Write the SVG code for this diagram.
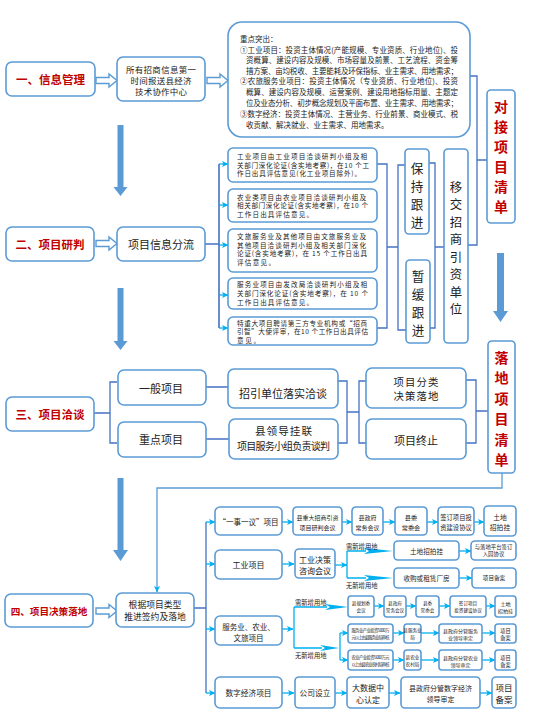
<svg xmlns="http://www.w3.org/2000/svg" width="541" height="726" viewBox="0 0 541 726">
<style>
.box{fill:#fff;stroke:#5b9bd5;stroke-width:1.6}
.t{font-family:"Noto Sans CJK SC","Liberation Sans",sans-serif;fill:#222;text-anchor:middle;dominant-baseline:central}
.l{text-anchor:start}
.red{fill:#c00000;font-weight:bold}
.br{fill:none;stroke:#4472c4;stroke-width:1.3}
.ar{fill:none;stroke:#00b0f0;stroke-width:1.3;marker-end:url(#ah)}
.big{fill:#5b9bd5}
.hol{fill:#fff;stroke:#5b9bd5;stroke-width:1.4}
.wedge{fill:#00b0f0}
</style>
<defs>
<marker id="ah" markerUnits="userSpaceOnUse" markerWidth="7" markerHeight="7" refX="6" refY="3.5" orient="auto">
<path d="M0,0.5 L6.5,3.5 L0,6.5 L1.5,3.5 z" fill="#00b0f0"/>
</marker>
</defs>
<rect width="541" height="726" fill="#fff"/>

<!-- thick flow arrows -->
<g id="flow-arrows">
<polygon class="big" points="117.5,125 123.5,125 123.5,187 127.5,187 120.5,196 113.5,187 117.5,187"/>
<polygon class="big" points="117.5,288 123.5,288 123.5,341 127.5,341 120.5,350 113.5,341 117.5,341"/>
<polygon class="big" points="117.5,478 123.5,478 123.5,550 128,550 120.5,561 113,550 117.5,550"/>
<polygon class="big" points="497,253 504,253 504,311 508,311 500.5,322 493,311 497,311"/>
<polygon class="hol" points="96,77.5 109,77.5 109,74 117,80.5 109,87 109,83.5 96,83.5"/>
<polygon class="hol" points="207,77.5 220,77.5 220,74 228,80.5 220,87 220,83.5 207,83.5"/>
<polygon class="hol" points="96,240.5 109,240.5 109,237 117,243.5 109,250 109,246.5 96,246.5"/>
<polygon class="hol" points="96,608 109,608 109,604.5 117,611 109,617.5 109,614 96,614"/>
</g>

<!-- connectors -->
<g id="connectors">
<path class="br" d="M470,76 H477 V245 H468 M477,160 H487"/>
<path class="br" d="M205,244 H219 M219,164 V328" style="stroke-width:1.6"/>
<path class="ar" d="M219,164 H228"/>
<path class="ar" d="M219,205 H228"/>
<path class="ar" d="M219,245 H228"/>
<path class="ar" d="M219,295 H228"/>
<path class="ar" d="M219,328 H228"/>
<path class="br" d="M377,164 H387 V328 H377 M387,247 H398 M405,165 H398 V330 H406 M429,163 H435 V328 H430 M435,247 H444"/>
<path class="br" d="M94,413 H110 M117,382 H110 V443 H117 M206,387 H228 M206,439 H229"/>
<path class="br" d="M338,381 H347 V443 H338 M347,412 H359 M366,381 H359 V443 H366 M466,380 H476 V443 H466 M476,411 H488"/>
<path class="ar" d="M502,473 V488 H157 V592" style="stroke:#5b9bd5"/>
<path class="br" d="M194,608 H206 M206,522 V693"/>
<path class="ar" d="M206,522 H215"/>
<path class="ar" d="M206,564 H215"/>
<path class="ar" d="M206,629 H215"/>
<path class="ar" d="M206,693 H215"/>
<!-- row 1 -->
<path class="ar" d="M282,522 H293"/>
<path class="ar" d="M342,522 H352"/>
<path class="ar" d="M383,522 H395"/>
<path class="ar" d="M427,522 H438"/>
<path class="ar" d="M474,522 H484"/>
<!-- row 2 -->
<path class="ar" d="M282,564 H294"/>
<path class="ar" d="M335,565 H347"/>
<path d="M347,551 V578 M347,551 H366 M347,578 H366" fill="none" stroke="#00b0f0" stroke-width="1.3"/>
<polygon class="wedge" points="364,548 393,551 364,554 369,551"/>
<polygon class="wedge" points="364,575 393,578 364,581 369,578"/>
<path class="ar" d="M459,551 H471"/>
<path class="ar" d="M459,578 H472"/>
<!-- row 3 -->
<path class="ar" d="M282,629 H293"/>
<path d="M294,607 V648 M294,607 H327 M294,648 H322 M340,633 V660" fill="none" stroke="#00b0f0" stroke-width="1.3"/>
<polygon class="wedge" points="325,604 348,607 325,610 330,607"/>
<polygon class="wedge" points="320,645 339,648 320,651 325,648"/>
<path class="ar" d="M340,633 H348"/>
<path class="ar" d="M340,660 H348"/>
<path class="ar" d="M374,606 H384"/>
<path class="ar" d="M406,606 H416"/>
<path class="ar" d="M439,606 H450"/>
<path class="ar" d="M486,606 H495"/>
<path class="ar" d="M393,633 H404"/>
<path class="ar" d="M421,633 H439"/>
<path class="ar" d="M482,633 H495"/>
<path class="ar" d="M393,660 H404"/>
<path class="ar" d="M421,660 H439"/>
<path class="ar" d="M482,660 H495"/>
<!-- row 4 -->
<path class="ar" d="M282,693 H294"/>
<path class="ar" d="M335,693 H347"/>
<path class="ar" d="M389,693 H400"/>
<path class="ar" d="M480,693 H492"/>
<text class="t l" x="346" y="546" font-size="6.3">需新增用地</text>
<text class="t l" x="346" y="585" font-size="6.3">无新增用地</text>
<text class="t l" x="295" y="602" font-size="6.3">需新增用地</text>
<text class="t l" x="295" y="655" font-size="6.3">无新增用地</text>
</g>

<!-- Section 1 -->
<g id="s1-title"><rect class="box" x="6" y="62" width="89" height="34" rx="6"/><text class="t red" x="50.5" y="79" font-size="11.5">一、信息管理</text></g>
<g id="s1-report"><rect class="box" x="117" y="57" width="88" height="44" rx="6"/>
<text class="t" x="161" y="68.5" font-size="8.5" textLength="70">所有招商信息第一</text>
<text class="t" x="161" y="79.5" font-size="8.5" textLength="61">时间报送县经济</text>
<text class="t" x="161" y="90.5" font-size="8.5" textLength="52">技术协作中心</text></g>
<g id="s1-focus"><rect class="box" x="228" y="22" width="242" height="115" rx="14"/>
<g class="t l" font-size="7.5">
<text x="240" y="38">重点突出：</text>
<text x="240" y="49" textLength="218" lengthAdjust="spacing">①工业项目：投资主体情况(产能规模、专业资质、行业地位)、投</text>
<text x="246" y="59.5" textLength="212" lengthAdjust="spacing">资概算、建设内容及规模、市场容量及前景、工艺流程、资金筹</text>
<text x="246" y="70" textLength="212" lengthAdjust="spacing">措方案、亩均税收、主要能耗及环保指标、业主需求、用地需求；</text>
<text x="240" y="80.5" textLength="218" lengthAdjust="spacing">②农旅服务业项目：投资主体情况（专业资质、行业地位)、投资</text>
<text x="246" y="91.5" textLength="212" lengthAdjust="spacing">概算、建设内容及规模、运营案例、建设用地指标用量、主题定</text>
<text x="246" y="102.5" textLength="212" lengthAdjust="spacing">位及业态分析、初步概念规划及平面布置、业主需求、用地需求；</text>
<text x="240" y="113.5" textLength="218" lengthAdjust="spacing">③数字经济：投资主体情况、主营业务、行业前景、商业模式、税</text>
<text x="246" y="124">收贡献、解决就业、业主需求、用地需求。</text>
</g></g>
<g id="s1-list"><rect class="box" x="487" y="90" width="28" height="133" rx="4"/>
<text class="t red" font-size="14"><tspan x="501" y="106">对</tspan><tspan x="501" y="126">接</tspan><tspan x="501" y="146">项</tspan><tspan x="501" y="166">目</tspan><tspan x="501" y="186">清</tspan><tspan x="501" y="206">单</tspan></text></g>

<!-- Section 2 -->
<g id="s2-title"><rect class="box" x="6" y="227" width="88" height="34" rx="6"/><text class="t red" x="50" y="244" font-size="11.5">二、项目研判</text></g>
<g id="s2-split"><rect class="box" x="117" y="227" width="88" height="34" rx="6"/><text class="t" x="161" y="244" font-size="11">项目信息分流</text></g>
<g class="t l" font-size="6.6">
<g id="s2-b1"><rect class="box" x="228" y="148" width="149" height="34" rx="5"/>
<text x="237" y="156" textLength="130">工业项目由工业项目洽谈研判小组及相</text>
<text x="237" y="164.6" textLength="132">关部门深化论证(含实地考察)，在10 个工</text>
<text x="237" y="173.2" textLength="124">作日出具评估意见(化工业项目除外)。</text></g>
<g id="s2-b2"><rect class="box" x="228" y="189" width="149" height="33" rx="5"/>
<text x="237" y="196.5" textLength="129">农业类项目由农业项目洽谈研判小组及</text>
<text x="237" y="205.1" textLength="131">相关部门深化论证(含实地考察)，在10 个</text>
<text x="237" y="213.7" textLength="76">工作日出具评估意见。</text></g>
<g id="s2-b3"><rect class="box" x="228" y="229" width="149" height="43" rx="5"/>
<text x="237" y="236" textLength="129">文旅服务业及其他项目由文旅服务业及</text>
<text x="237" y="244.6" textLength="129">其他项目洽谈研判小组及相关部门深化</text>
<text x="237" y="253.2" textLength="130">论证(含实地考察)，在 15 个工作日出具</text>
<text x="237" y="261.8" textLength="38">评估意见。</text></g>
<g id="s2-b4"><rect class="box" x="228" y="278" width="149" height="31" rx="5"/>
<text x="237" y="284.4" textLength="130">服务业项目由发改局洽谈研判小组及相</text>
<text x="237" y="293" textLength="131">关部门深化论证(含实地考察)，在 10 个</text>
<text x="237" y="301.6" textLength="76">工作日出具评估意见。</text></g>
<g id="s2-b5"><rect class="box" x="228" y="317" width="149" height="28" rx="5"/>
<text x="237" y="322.8" textLength="130">特重大项目聘请第三方专业机构或“招商</text>
<text x="237" y="331.4" textLength="131">引智”大使评审，在10 个工作日出具评估</text>
<text x="237" y="340" textLength="23">意见。</text></g>
</g>
<g id="s2-keep"><rect class="box" x="405" y="149" width="24" height="85" rx="4"/>
<text class="t" font-size="12.6"><tspan x="417" y="166.5">保</tspan><tspan x="417" y="184.5">持</tspan><tspan x="417" y="202.5">跟</tspan><tspan x="417" y="220.5">进</tspan></text></g>
<g id="s2-pause"><rect class="box" x="406" y="260" width="24" height="83" rx="4"/>
<text class="t" font-size="12.6"><tspan x="418" y="275">暂</tspan><tspan x="418" y="293">缓</tspan><tspan x="418" y="311">跟</tspan><tspan x="418" y="329">进</tspan></text></g>
<g id="s2-transfer"><rect class="box" x="444" y="149" width="24" height="194" rx="4"/>
<text class="t" font-size="12.4"><tspan x="456" y="187">移</tspan><tspan x="456" y="204.4">交</tspan><tspan x="456" y="221.9">招</tspan><tspan x="456" y="239.3">商</tspan><tspan x="456" y="256.7">引</tspan><tspan x="456" y="274.1">资</tspan><tspan x="456" y="291.6">单</tspan><tspan x="456" y="309">位</tspan></text></g>

<!-- Section 3 -->
<g id="s3-title"><rect class="box" x="6" y="397" width="88" height="34" rx="6"/><text class="t red" x="50" y="414" font-size="11.5">三、项目洽谈</text></g>
<g id="s3-general"><rect class="box" x="118" y="370" width="88" height="35" rx="6"/><text class="t" x="161" y="388" font-size="11">一般项目</text></g>
<g id="s3-key"><rect class="box" x="118" y="422" width="88" height="35" rx="6"/><text class="t" x="161" y="439" font-size="11">重点项目</text></g>
<g id="s3-unit"><rect class="box" x="228" y="369" width="110" height="39" rx="6"/><text class="t" x="283" y="393" font-size="11">招引单位落实洽谈</text></g>
<g id="s3-leader"><rect class="box" x="229" y="419" width="109" height="40" rx="6"/>
<text class="t" x="283.5" y="430.5" font-size="10.6" textLength="57">县领导挂联</text>
<text class="t" x="283.5" y="445" font-size="10" textLength="93">项目服务小组负责谈判</text></g>
<g id="s3-decide"><rect class="box" x="366" y="368" width="100" height="40" rx="6"/>
<text class="t" x="416" y="381.3" font-size="10.4" textLength="45">项目分类</text>
<text class="t" x="416" y="395" font-size="10.4" textLength="45">决策落地</text></g>
<g id="s3-stop"><rect class="box" x="366" y="419" width="100" height="40" rx="6"/><text class="t" x="416" y="440" font-size="11">项目终止</text></g>
<g id="s3-list"><rect class="box" x="488" y="341" width="27" height="132" rx="4"/>
<text class="t red" font-size="14"><tspan x="501.5" y="357">落</tspan><tspan x="501.5" y="377.4">地</tspan><tspan x="501.5" y="397.8">项</tspan><tspan x="501.5" y="418.2">目</tspan><tspan x="501.5" y="438.6">清</tspan><tspan x="501.5" y="459">单</tspan></text></g>

<!-- Section 4 -->
<g id="s4-title"><rect class="box" x="5" y="594" width="88" height="33" rx="6"/><text class="t red" x="49" y="611" font-size="9.6">四、项目决策落地</text></g>
<g id="s4-push"><rect class="box" x="116" y="593" width="78" height="34" rx="6"/>
<text class="t" x="155" y="604" font-size="8.8">根据项目类型</text>
<text class="t" x="155" y="616.5" font-size="8.8">推进签约及落地</text></g>

<g id="r1-yishi"><rect class="box" x="215" y="507" width="67" height="28" rx="5"/><text class="t" x="248.5" y="521.5" font-size="7.5">“一事一议”项目</text></g>
<g id="r1-b2"><rect class="box" x="293" y="507" width="49" height="28" rx="4"/><text class="t" font-size="6"><tspan x="317.5" y="517">县重大招商引资</tspan><tspan x="317.5" y="527">项目研判会议</tspan></text></g>
<g id="r1-b3"><rect class="box" x="352" y="507" width="31" height="28" rx="4"/><text class="t" font-size="6"><tspan x="367.5" y="517">县政府</tspan><tspan x="367.5" y="527">常务会议</tspan></text></g>
<g id="r1-b4"><rect class="box" x="395" y="507" width="32" height="28" rx="4"/><text class="t" font-size="6.2"><tspan x="411" y="517">县委</tspan><tspan x="411" y="527">常委会</tspan></text></g>
<g id="r1-b5"><rect class="box" x="438" y="507" width="36" height="28" rx="4"/><text class="t" font-size="6.3"><tspan x="456" y="517">签订项目投</tspan><tspan x="456" y="527">资建设协议</tspan></text></g>
<g id="r1-b6"><rect class="box" x="484" y="506" width="32" height="30" rx="4"/><text class="t" font-size="6.8"><tspan x="500" y="516.5">土地</tspan><tspan x="500" y="527">招拍挂</tspan></text></g>

<g id="r2-ind"><rect class="box" x="215" y="550" width="67" height="29" rx="5"/><text class="t" x="248.5" y="564.5" font-size="8">工业项目</text></g>
<g id="r2-b2"><rect class="box" x="295" y="549" width="40" height="29" rx="4"/><text class="t" font-size="8"><tspan x="315" y="558.5">工业决策</tspan><tspan x="315" y="569.5">咨询会议</tspan></text></g>
<g id="r2-land"><rect class="box" x="394" y="541" width="65" height="19" rx="4"/><text class="t" x="426.5" y="550.5" font-size="6.6">土地招拍挂</text></g>
<g id="r2-park"><rect class="box" x="471" y="541" width="45" height="19" rx="4"/><text class="t" font-size="5.4"><tspan x="493.5" y="546.8">与落地平台签订</tspan><tspan x="493.5" y="554.4">入园协议</tspan></text></g>
<g id="r2-buy"><rect class="box" x="394" y="568" width="65" height="20" rx="4"/><text class="t" x="426.5" y="578" font-size="6.6">收购或租赁厂房</text></g>
<g id="r2-rec"><rect class="box" x="472" y="568" width="44" height="20" rx="4"/><text class="t" x="494" y="578" font-size="5.6">项目备案</text></g>

<g id="r3-svc"><rect class="box" x="215" y="616" width="67" height="29" rx="5"/><text class="t" font-size="7.5"><tspan x="248.5" y="625.5">服务业、农业、</tspan><tspan x="248.5" y="636.5">文旅项目</tspan></text></g>
<g class="t" font-size="4.6">
<g id="r3a-1"><rect class="box" x="348" y="596" width="26" height="21" rx="3"/><text><tspan x="361" y="603">县规划委</tspan><tspan x="361" y="610">会议</tspan></text></g>
<g id="r3a-2"><rect class="box" x="384" y="596" width="22" height="21" rx="3"/><text><tspan x="395" y="603">县政府</tspan><tspan x="395" y="610">常务会议</tspan></text></g>
<g id="r3a-3"><rect class="box" x="416" y="596" width="23" height="21" rx="3"/><text><tspan x="427.5" y="603">县委</tspan><tspan x="427.5" y="610">常委会</tspan></text></g>
<g id="r3a-4"><rect class="box" x="450" y="596" width="36" height="21" rx="3"/><text><tspan x="468" y="603">签订项目</tspan><tspan x="468" y="610">投资建设协议</tspan></text></g>
<g id="r3a-5"><rect class="box" x="495" y="596" width="21" height="21" rx="3"/><text font-size="5.1"><tspan x="505.5" y="603">土地</tspan><tspan x="505.5" y="610">招拍挂</tspan></text></g>
<g id="r3b-1"><rect class="box" x="348" y="624" width="45" height="19" rx="3"/><text font-size="4.3"><tspan x="370.5" y="630" textLength="38">服务业产业投资5000万</tspan><tspan x="370.5" y="637" textLength="38">元以上由县服务业局审核</tspan></text></g>
<g id="r3b-2"><rect class="box" x="404" y="624" width="17" height="19" rx="3"/><text><tspan x="412.5" y="630">县服务业</tspan><tspan x="412.5" y="637">局</tspan></text></g>
<g id="r3b-3"><rect class="box" x="439" y="624" width="43" height="19" rx="3"/><text font-size="5"><tspan x="460.5" y="630">县政府分管服务</tspan><tspan x="460.5" y="637">业领导审定</tspan></text></g>
<g id="r3b-4"><rect class="box" x="495" y="624" width="21" height="19" rx="3"/><text font-size="5.2"><tspan x="505.5" y="630">项目</tspan><tspan x="505.5" y="637">备案</tspan></text></g>
<g id="r3c-1"><rect class="box" x="348" y="650" width="45" height="20" rx="3"/><text font-size="4.3"><tspan x="370.5" y="656.5" textLength="38">农业产业投资5000万元</tspan><tspan x="370.5" y="663.5" textLength="38">以上由县农业农村局审核</tspan></text></g>
<g id="r3c-2"><rect class="box" x="404" y="650" width="17" height="20" rx="3"/><text><tspan x="412.5" y="656.5">县农业</tspan><tspan x="412.5" y="663.5">农村局</tspan></text></g>
<g id="r3c-3"><rect class="box" x="439" y="650" width="43" height="20" rx="3"/><text font-size="5"><tspan x="460.5" y="656.5">县政府分管农业</tspan><tspan x="460.5" y="663.5">领导审定</tspan></text></g>
<g id="r3c-4"><rect class="box" x="495" y="650" width="21" height="20" rx="3"/><text font-size="5.2"><tspan x="505.5" y="656.5">项目</tspan><tspan x="505.5" y="663.5">备案</tspan></text></g>
</g>

<g id="r4-dig"><rect class="box" x="215" y="677" width="67" height="31" rx="5"/><text class="t" x="248.5" y="692.5" font-size="7.7">数字经济项目</text></g>
<g id="r4-co"><rect class="box" x="295" y="677" width="40" height="31" rx="4"/><text class="t" x="315" y="692.5" font-size="7.7">公司设立</text></g>
<g id="r4-bd"><rect class="box" x="347" y="677" width="42" height="31" rx="4"/><text class="t" font-size="8"><tspan x="368" y="687">大数据中</tspan><tspan x="368" y="698.5">心认定</tspan></text></g>
<g id="r4-ld"><rect class="box" x="401" y="677" width="79" height="31" rx="4"/><text class="t" font-size="7"><tspan x="440.5" y="687.5">县政府分管数字经济</tspan><tspan x="440.5" y="698.5">领导审定</tspan></text></g>
<g id="r4-rec"><rect class="box" x="492" y="677" width="24" height="31" rx="4"/><text class="t" font-size="8.5"><tspan x="504" y="687">项目</tspan><tspan x="504" y="699">备案</tspan></text></g>
</svg>
